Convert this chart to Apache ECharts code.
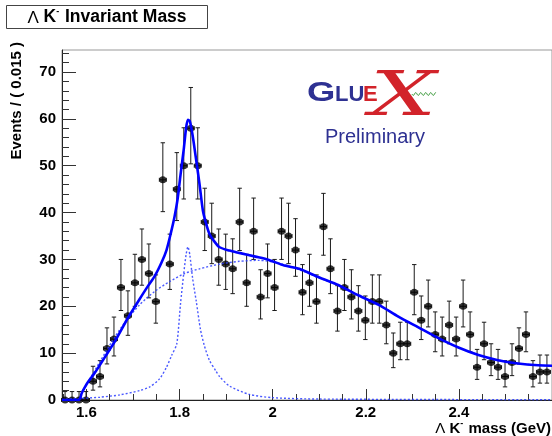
<!DOCTYPE html>
<html><head><meta charset="utf-8">
<script src="https://cdn.jsdelivr.net/npm/echarts@6/dist/echarts.min.js"></script>
<style>html,body{margin:0;padding:0;background:#fff}#c{width:552px;height:436px}</style>
</head><body><div id="c"></div>
<script>
// ---- data ----
const BIN0 = 1.5541, BIN_W = 0.015;          // first bin centre, bin width (GeV)
const counts = [0,0,0,0,4,5,11,13,24,18,25,30,27,21,47,29,45,50,58,50,38,35,30,29,28,38,25,36,22,27,24,36,35,32,23,25,21,37,28,19,24,22,19,17,21,21,16,10,12,12,23,17,20,14,13,16,13,20,14,7,12,8,7,5,8,11,14,5,6,6];
const errLo = [0,0,0,0,1.9,2.2,3.3,3.6,4.9,4.2,5.0,5.5,5.2,4.6,6.8,5.4,6.7,7.1,7.6,7.1,6.1,5.9,5.5,5.4,5.3,6.1,5.0,6.0,4.7,5.2,4.9,6.0,5.9,5.6,4.8,5.0,4.6,6.1,5.3,4.3,4.9,4.7,4.3,4.1,4.6,4.6,4.0,3.1,3.4,3.4,4.8,4.1,4.4,3.7,3.6,4.0,3.6,4.4,3.7,2.6,3.4,2.8,2.6,2.2,2.8,3.3,3.7,2.2,2.4,2.4];
const errHi = [1.8,1.8,1.8,1.8,3.2,3.4,4.4,4.7,6.0,5.3,6.1,6.5,6.3,5.7,7.9,6.4,7.8,8.1,8.7,8.1,7.2,7.0,6.5,6.4,6.4,7.2,6.1,7.1,5.8,6.3,6.0,7.1,7.0,6.7,5.9,6.1,5.7,7.1,6.4,5.4,6.0,5.8,5.4,5.2,5.7,5.7,5.1,4.3,4.6,4.6,5.9,5.2,5.6,4.8,4.7,5.1,4.7,5.6,4.8,3.8,4.6,4.0,3.8,3.4,4.0,4.4,4.8,3.4,3.6,3.6];
const totalFit = [[1.5476,0],[1.584,0],[1.590,1.5],[1.597,2.8],[1.603,3.8],[1.618,5.8],[1.640,9.2],[1.661,12.5],[1.689,17.5],[1.714,21.5],[1.732,24.3],[1.747,26.5],[1.762,29.5],[1.772,32],[1.781,35.5],[1.789,39],[1.796,43],[1.802,48],[1.809,53.5],[1.814,58],[1.818,59.8],[1.822,59.5],[1.828,56.5],[1.836,51],[1.843,46],[1.850,40.5],[1.856,38],[1.864,35.5],[1.875,33.8],[1.886,32.6],[1.907,31.9],[1.928,31.4],[1.963,30.6],[1.992,29.9],[2.025,28.7],[2.057,28.0],[2.099,26.2],[2.142,24.5],[2.185,22.3],[2.228,20.3],[2.270,17.8],[2.313,15.5],[2.356,13.2],[2.399,11.2],[2.442,9.6],[2.484,8.5],[2.527,7.8],[2.570,7.4],[2.600,7.3]];
const bkgFit = [[1.5476,0],[1.584,0],[1.590,1.5],[1.597,2.8],[1.603,3.8],[1.629,8.2],[1.655,12.5],[1.682,16.5],[1.714,20.3],[1.747,23.2],[1.779,25.3],[1.811,27.0],[1.843,28.0],[1.886,29.0],[1.928,29.6],[1.971,29.8],[2.014,29.2],[2.057,27.8],[2.099,26.1],[2.142,24.4],[2.185,22.3],[2.228,20.3],[2.270,17.8],[2.313,15.5],[2.356,13.2],[2.399,11.2],[2.442,9.6],[2.484,8.5],[2.527,7.8],[2.570,7.4],[2.600,7.3]];
const sigFit = [[1.5476,0.1],[1.584,0.3],[1.629,0.6],[1.672,1.1],[1.714,2.0],[1.736,2.8],[1.757,4.5],[1.772,7],[1.783,9.5],[1.794,12],[1.802,20.5],[1.809,27],[1.814,31],[1.818,32.7],[1.822,31],[1.828,26],[1.836,21],[1.845,15],[1.853,11.7],[1.864,8.5],[1.878,6.2],[1.886,5.0],[1.907,3.0],[1.950,1.2],[1.999,0.5],[2.099,0.2],[2.600,0.05]];
const xMajor = [1.6,1.8,2.0,2.2,2.4];
const xMinor = [1.55,1.65,1.7,1.75,1.85,1.9,1.95,2.05,2.1,2.15,2.25,2.3,2.35,2.45,2.5,2.55];
const yMajor = [0,10,20,30,40,50,60,70];
const yMinor = [2,4,6,8,12,14,16,18,22,24,26,28,32,34,36,38,42,44,46,48,52,54,56,58,62,64,66,68,72,74];
const X_RANGE = [1.5475, 2.6], Y_RANGE = [0, 74.7];

// ---- build ----
const binCenters = counts.map((_, i) => +(BIN0 + i * BIN_W).toFixed(4));
const pts = binCenters.map((x, i) => [x, counts[i], errLo[i], errHi[i]]);
const FONT = 'Liberation Sans, Arial, Helvetica, sans-serif';
const chart = echarts.init(document.getElementById('c'), null, {renderer: 'canvas'});

function wave(x0, x1, y, amp, per) {
  const p = [];
  for (let x = x0; x <= x1; x += 0.5) p.push([x, y + amp * Math.sin((x - x0) / per * 2 * Math.PI)]);
  return p;
}

const tickStyle = {color: '#333', width: 1};
chart.setOption({
  animation: false,
  backgroundColor: '#fff',
  grid: {left: 62, top: 50, right: -2, bottom: 36, show: true, borderColor: '#999', borderWidth: 1, backgroundColor: 'transparent'},
  xAxis: [
    {type: 'value', min: X_RANGE[0], max: X_RANGE[1], position: 'bottom',
     axisLine: {show: true, onZero: false, lineStyle: {color: '#222', width: 1}},
     axisTick: {show: true, inside: true, length: 11, customValues: xMajor, lineStyle: tickStyle},
     axisLabel: {show: true, customValues: xMajor, margin: 5, fontFamily: FONT, fontWeight: 'bold', fontSize: 15, color: '#000',
       formatter: v => (Math.abs(v - 2) < 1e-9 ? '2' : v.toFixed(1))},
     splitLine: {show: false}},
    {type: 'value', min: X_RANGE[0], max: X_RANGE[1], position: 'bottom',
     axisLine: {show: false}, axisLabel: {show: false}, splitLine: {show: false},
     axisTick: {show: true, inside: true, length: 6, customValues: xMinor, lineStyle: tickStyle}}
  ],
  yAxis: [
    {type: 'value', min: Y_RANGE[0], max: Y_RANGE[1], position: 'left',
     axisLine: {show: true, onZero: false, lineStyle: {color: '#222', width: 1}},
     axisTick: {show: true, inside: true, length: 14, customValues: yMajor, lineStyle: tickStyle},
     axisLabel: {show: true, customValues: yMajor, margin: 6, fontFamily: FONT, fontWeight: 'bold', fontSize: 15, color: '#000'},
     splitLine: {show: false}},
    {type: 'value', min: Y_RANGE[0], max: Y_RANGE[1], position: 'left',
     axisLine: {show: false}, axisLabel: {show: false}, splitLine: {show: false},
     axisTick: {show: true, inside: true, length: 7, customValues: yMinor, lineStyle: tickStyle}}
  ],
  series: [
    {type: 'custom', name: 'errors', xAxisIndex: 0, yAxisIndex: 0, data: pts, z: 3,
     encode: {x: 0, y: 1},
     renderItem: function (params, api) {
       const x = api.value(0), y = api.value(1), lo = api.value(2), hi = api.value(3);
       const c = api.coord([x, y]);
       const t = api.coord([x, y + hi]);
       const b = api.coord([x, y - lo]);
       const hw = api.size([BIN_W, 0])[0] / 2;
       const st = {stroke: '#1a1a1a', lineWidth: 1};
       const cap = 2.2;
       const ch = [
         {type: 'line', shape: {x1: c[0], y1: t[1], x2: c[0], y2: b[1]}, style: st},
         {type: 'line', shape: {x1: c[0] - cap, y1: t[1], x2: c[0] + cap, y2: t[1]}, style: st},
         {type: 'line', shape: {x1: c[0] - hw, y1: c[1], x2: c[0] + hw, y2: c[1]}, style: st},
         {type: 'line', shape: {x1: c[0] - hw, y1: c[1] - 2, x2: c[0] - hw, y2: c[1] + 2}, style: st},
         {type: 'line', shape: {x1: c[0] + hw, y1: c[1] - 2, x2: c[0] + hw, y2: c[1] + 2}, style: st}
       ];
       if (lo > 0) ch.push({type: 'line', shape: {x1: c[0] - cap, y1: b[1], x2: c[0] + cap, y2: b[1]}, style: st});
       return {type: 'group', children: ch};
     }},
    {type: 'scatter', name: 'data', data: counts.map((v, i) => [binCenters[i], v]), symbol: 'circle', symbolSize: 7,
     itemStyle: {color: '#000'}, z: 4},
    {type: 'line', name: 'signal', data: sigFit, showSymbol: false, smooth: 0.25, z: 5,
     lineStyle: {color: '#2a3cff', width: 1.4, type: [2, 2], opacity: 0.85}},
    {type: 'line', name: 'background', data: bkgFit, showSymbol: false, smooth: 0.25, z: 5,
     lineStyle: {color: '#2a3cff', width: 1.4, type: [2, 2], opacity: 0.85}},
    {type: 'line', name: 'total', data: totalFit, showSymbol: false, smooth: 0.25, z: 6,
     lineStyle: {color: '#0000ff', width: 2.6}}
  ],
  graphic: [
    {type: 'rect', shape: {x: 6.5, y: 5.5, width: 201, height: 23}, style: {fill: '#fff', stroke: '#444', lineWidth: 1}, z: 10},
    {type: 'text', x: 107, y: 17, z: 11, style: {
      text: '{g|Λ }{a|K}{s|-}{a| Invariant Mass}', align: 'center', verticalAlign: 'middle',
      rich: {g: {fontFamily: FONT, fontWeight: 'normal', fontSize: 17, fill: '#000', lineHeight: 19, verticalAlign: 'bottom'},
             a: {fontFamily: FONT, fontWeight: 'bold', fontSize: 17.5, fill: '#000', lineHeight: 19, verticalAlign: 'bottom'},
             s: {fontFamily: FONT, fontWeight: 'bold', fontSize: 9, fill: '#000', lineHeight: 19, verticalAlign: 'top', padding: [0, 1, 0, 0]}}}},
    {type: 'text', x: 551, y: 428, z: 11, style: {
      text: '{g|Λ }{a|K}{s|-}{a| mass (GeV)}', align: 'right', verticalAlign: 'middle',
      rich: {g: {fontFamily: FONT, fontWeight: 'normal', fontSize: 15, fill: '#000', lineHeight: 17, verticalAlign: 'bottom'},
             a: {fontFamily: FONT, fontWeight: 'bold', fontSize: 15, fill: '#000', lineHeight: 17, verticalAlign: 'bottom'},
             s: {fontFamily: FONT, fontWeight: 'bold', fontSize: 9, fill: '#000', lineHeight: 17, verticalAlign: 'top', padding: [0, 1, 0, 0]}}}},
    {type: 'text', x: 17, y: 42, rotation: Math.PI / 2, z: 11, style: {
      text: 'Events / ( 0.015 )', align: 'right', verticalAlign: 'middle',
      fontFamily: FONT, fontWeight: 'bold', fontSize: 15, fill: '#000'}},
    // GlueX logo
    {type: 'text', x: 307, y: 93, scaleX: 1.3, z: 11, style: {text: 'G', align: 'left', verticalAlign: 'middle',
      fontFamily: FONT, fontWeight: 'bold', fontSize: 28, fill: '#2e3192'}},
    {type: 'text', x: 335, y: 95, z: 11, style: {text: 'LU', align: 'left', verticalAlign: 'middle',
      fontFamily: FONT, fontWeight: 'bold', fontSize: 22, fill: '#2e3192'}},
    {type: 'text', x: 363, y: 95, z: 11, style: {text: 'E', align: 'left', verticalAlign: 'middle',
      fontFamily: FONT, fontWeight: 'bold', fontSize: 22, fill: '#d2232a'}},
    {type: 'text', x: 403, y: 99, scaleX: 1.5, z: 12, style: {text: 'X', align: 'center', verticalAlign: 'middle',
      fontFamily: 'DejaVu Serif, Liberation Serif, serif', fontStyle: 'italic', fontSize: 62, fill: '#d2232a'}},
    {type: 'polyline', z: 11, shape: {points: wave(412, 436, 94, 1.4, 5)}, style: {stroke: '#3a9a3a', lineWidth: 1, fill: null}},
    {type: 'text', x: 325, y: 137, z: 11, style: {text: 'Preliminary', align: 'left', verticalAlign: 'middle',
      fontFamily: FONT, fontSize: 20, fill: '#2e3192'}}
  ]
});
</script></body></html>
